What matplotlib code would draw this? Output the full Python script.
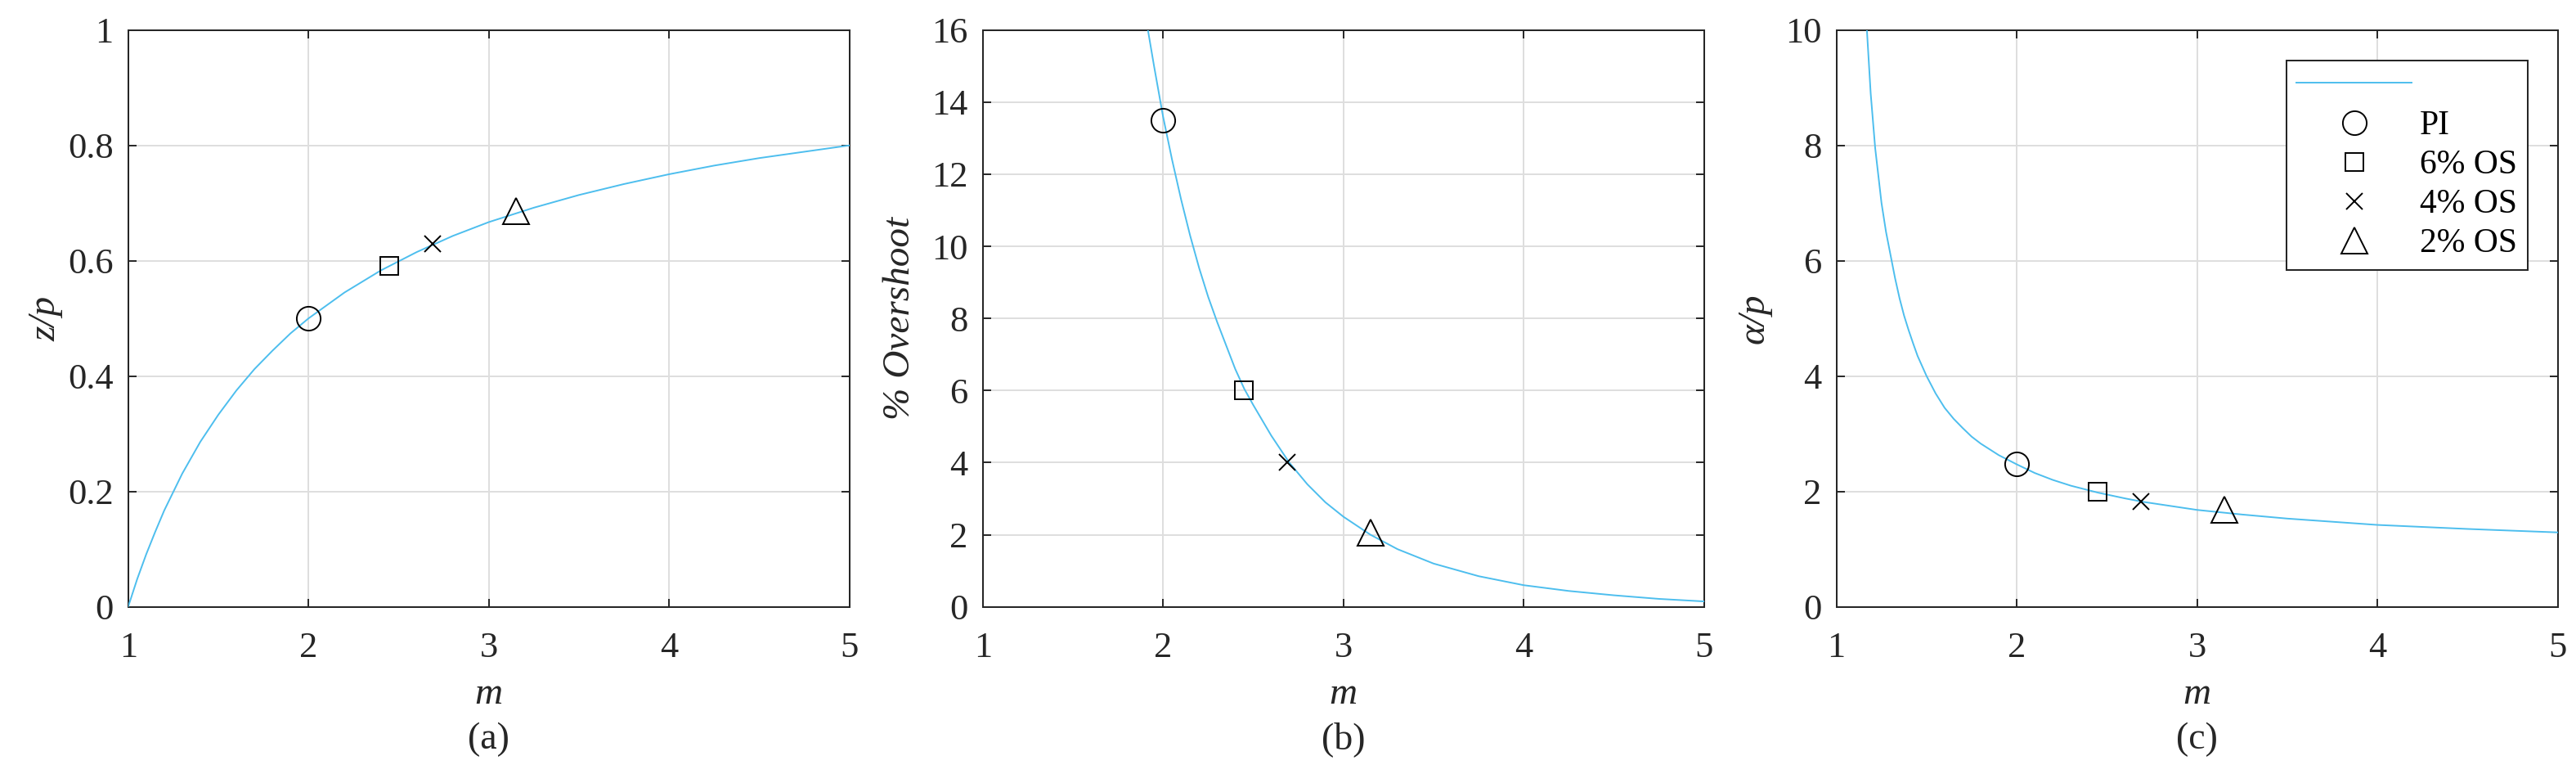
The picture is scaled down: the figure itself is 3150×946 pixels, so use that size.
import matplotlib
matplotlib.use("Agg")
import matplotlib.pyplot as plt

# curves
m_a = [1.0, 1.05, 1.1, 1.15, 1.2, 1.3, 1.4, 1.5, 1.6, 1.7, 1.8, 1.9, 2.0,
       2.2, 2.4, 2.6, 2.8, 3.0, 3.25, 3.5, 3.75, 4.0, 4.25, 4.5, 4.75, 5.0]
zp_a = [0.0, 0.048, 0.091, 0.130, 0.167, 0.231, 0.286, 0.333, 0.375, 0.412,
        0.444, 0.474, 0.5, 0.545, 0.583, 0.615, 0.643, 0.667, 0.692, 0.714,
        0.733, 0.75, 0.765, 0.778, 0.789, 0.8]

m_b = [1.916, 1.95, 2.0, 2.05, 2.1, 2.15, 2.2, 2.25, 2.3, 2.35, 2.4, 2.45, 2.5,
       2.6, 2.7, 2.8, 2.9, 3.0, 3.15, 3.3, 3.5, 3.75, 4.0, 4.25, 4.5, 4.75, 5.0]
os_b = [16.0, 15.0, 13.6, 12.4, 11.3, 10.3, 9.4, 8.6, 7.9, 7.25, 6.6, 6.05, 5.6,
        4.75, 4.0, 3.4, 2.9, 2.5, 2.0, 1.6, 1.2, 0.85, 0.6, 0.44, 0.32, 0.22,
        0.15]

m_c = [1.169, 1.19, 1.215, 1.25, 1.275, 1.3, 1.325, 1.35, 1.375, 1.4, 1.425,
       1.45, 1.5, 1.55, 1.6, 1.65, 1.7, 1.75, 1.8, 1.9, 2.0, 2.1, 2.2, 2.3,
       2.45, 2.6, 2.7, 2.85, 3.0, 3.25, 3.5, 4.0, 4.5, 5.0]
ap_c = [10.0, 8.9, 7.95, 7.0, 6.5, 6.1, 5.7, 5.35, 5.05, 4.8, 4.57,
        4.35, 4.0, 3.7, 3.45, 3.26, 3.1, 2.95, 2.83, 2.63, 2.47, 2.32, 2.2, 2.1,
        1.98, 1.88, 1.82, 1.75, 1.68, 1.6, 1.53, 1.42, 1.35, 1.29]

# design points
m_pts = [2.0, 2.45, 2.69, 3.15]
zp_pts = [0.5, 0.591, 0.63, 0.686]
os_pts = [13.5, 6.0, 4.0, 2.05]
ap_pts = [2.48, 1.99, 1.82, 1.68]
pt_labels = ['PI', '6% OS', '4% OS', '2% OS']

x_ticks = [1, 2, 3, 4, 5]
ya_ticks = [0, 0.2, 0.4, 0.6, 0.8, 1]
yb_ticks = [0, 2, 4, 6, 8, 10, 12, 14, 16]
yc_ticks = [0, 2, 4, 6, 8, 10]

blue = '#4DBEEE'
dark = '#262626'
plt.rcParams['font.family'] = ['Liberation Serif', 'DejaVu Serif']

markers = [('o', 21), ('s', 16.5), ('x', 14.5), ('^', 23)]

fig = plt.figure(figsize=(31.5, 9.46), dpi=100)
lefts = [0.04975, 0.3815, 0.7129]
axes = [fig.add_axes([l, 0.216, 0.28, 0.7452]) for l in lefts]

panels = [
    (m_a, zp_a, zp_pts, ya_ticks, 'z/p', '(a)'),
    (m_b, os_b, os_pts, yb_ticks, '% Overshoot', '(b)'),
    (m_c, ap_c, ap_pts, yc_ticks, 'α/p', '(c)'),
]

for ax, (mx, my, ypts, yt, ylab, cap) in zip(axes, panels):
    line, = ax.plot(mx, my, color=blue, lw=1.4, zorder=3)
    handles = [line]
    for i, (mk, ms) in enumerate(markers):
        h, = ax.plot([m_pts[i]], [ypts[i]], ls='none', marker=mk, ms=ms,
                     mfc='none', mec='k', mew=1.4, zorder=4)
        handles.append(h)
    ax.set_xlim(1, 5)
    ax.set_ylim(yt[0], yt[-1])
    ax.set_xticks(x_ticks)
    ax.set_yticks(yt)
    ax.set_xticklabels(['%g' % v for v in x_ticks])
    ax.set_yticklabels(['%g' % v for v in yt])
    ax.grid(True, color='#dedede', lw=1.4, zorder=0)
    ax.set_axisbelow(True)
    ax.tick_params(direction='in', top=True, right=True, length=7, width=1.4,
                   color=dark, labelsize=32, labelcolor=dark)
    ax.tick_params(axis='x', pad=22)
    ax.tick_params(axis='y', pad=13)
    for s in ax.spines.values():
        s.set_linewidth(1.45)
        s.set_color(dark)
    ax.set_xlabel('m', fontsize=34, style='italic', color=dark)
    ax.xaxis.set_label_coords(0.5, -0.122)
    ax.set_ylabel(ylab, fontsize=34, style='italic', color=dark)
    ax.yaxis.set_label_coords(-0.09, 0.5)
    ax.text(0.5, -0.246, cap, transform=ax.transAxes, ha='center',
            va='baseline', fontsize=33, color=dark)

leg = axes[2].legend(handles, [' '] + pt_labels, loc='upper right',
                     bbox_to_anchor=(0.958, 0.947), borderaxespad=0,
                     fontsize=30, numpoints=1, handlelength=3.38,
                     handletextpad=0.24, borderpad=0.3, labelspacing=0.23,
                     fancybox=False, framealpha=1, edgecolor=dark)
leg.get_frame().set_linewidth(1.45)
for t in leg.get_texts():
    t.set_color('k')

fig.savefig('out.png', dpi=100)
